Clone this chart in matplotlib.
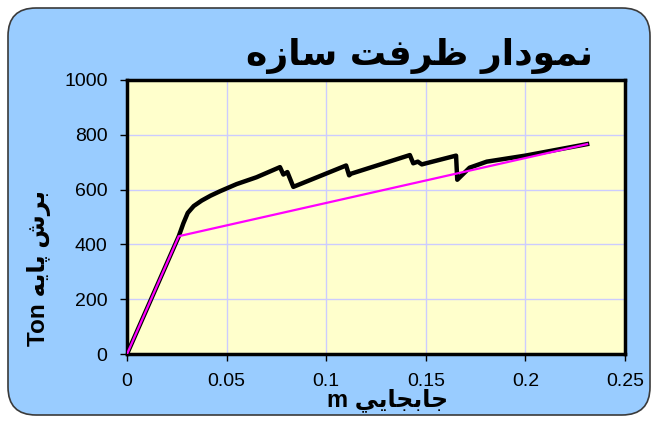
import matplotlib.pyplot as plt
from matplotlib.patches import FancyBboxPatch

# capacity (pushover) curve of the structure
disp = [0, 0.026, 0.0283, 0.0305, 0.0335, 0.0375, 0.042, 0.0467, 0.055, 0.065,
        0.0768, 0.0785, 0.0805, 0.0835, 0.110, 0.1115, 0.1125, 0.142, 0.1437,
        0.146, 0.148, 0.1652, 0.1658, 0.172, 0.1806, 0.2, 0.231]
shear = [0, 430, 477, 515, 540, 560, 578, 594, 620, 645,
         682, 655, 664, 610, 688, 652, 658, 726, 696,
         702, 692, 724, 636, 680, 702, 724, 766]

# bilinear idealisation
bi_disp = [0, 0.026, 0.231]
bi_shear = [0, 430, 766]

x_ticks = [0, 0.05, 0.1, 0.15, 0.2, 0.25]
x_labels = ['0', '0.05', '0.1', '0.15', '0.2', '0.25']
y_ticks = [0, 200, 400, 600, 800, 1000]

title = 'نمودار ظرفت سازه'
y_label = 'برش پايه'
x_label = 'جابجايي'

# matplotlib does no arabic shaping, so map letters to presentation forms
forms = {
    'ا': ('\uFE8D', '\uFE8E', None, None), 'د': ('\uFEA9', '\uFEAA', None, None),
    'ر': ('\uFEAD', '\uFEAE', None, None), 'ز': ('\uFEAF', '\uFEB0', None, None),
    'و': ('\uFEED', '\uFEEE', None, None),
    'ب': ('\uFE8F', '\uFE90', '\uFE91', '\uFE92'), 'ت': ('\uFE95', '\uFE96', '\uFE97', '\uFE98'),
    'ج': ('\uFE9D', '\uFE9E', '\uFE9F', '\uFEA0'), 'س': ('\uFEB1', '\uFEB2', '\uFEB3', '\uFEB4'),
    'ش': ('\uFEB5', '\uFEB6', '\uFEB7', '\uFEB8'), 'ظ': ('\uFEC5', '\uFEC6', '\uFEC7', '\uFEC8'),
    'ف': ('\uFED1', '\uFED2', '\uFED3', '\uFED4'), 'م': ('\uFEE1', '\uFEE2', '\uFEE3', '\uFEE4'),
    'ن': ('\uFEE5', '\uFEE6', '\uFEE7', '\uFEE8'), 'ه': ('\uFEE9', '\uFEEA', '\uFEEB', '\uFEEC'),
    'ي': ('\uFEF1', '\uFEF2', '\uFEF3', '\uFEF4'), 'پ': ('\uFB56', '\uFB57', '\uFB58', '\uFB59'),
}


def shape(s):
    out = []
    for i, ch in enumerate(s):
        if ch not in forms:
            out.append(ch)
            continue
        prev = i > 0 and s[i - 1] in forms and forms[s[i - 1]][2] is not None
        nxt = forms[ch][2] is not None and i + 1 < len(s) and s[i + 1] in forms
        if prev and nxt:
            out.append(forms[ch][3])
        elif prev:
            out.append(forms[ch][1])
        elif nxt:
            out.append(forms[ch][2])
        else:
            out.append(forms[ch][0])
    return ''.join(out)[::-1]


fig = plt.figure(figsize=(6.56, 4.21), dpi=100)
fig.patch.set_facecolor('white')
bg = FancyBboxPatch((0.08, 0.06), 6.42, 4.07, boxstyle='round,pad=0,rounding_size=0.28',
                    transform=fig.dpi_scale_trans, facecolor='#99CCFF', edgecolor='#3a3a3a',
                    linewidth=1.2, zorder=-5)
fig.patches.append(bg)

ax = fig.add_axes([0.1936, 0.1591, 0.7591, 0.6509])
ax.set_zorder(1)
ax.set_facecolor('#FFFFCC')
ax.plot(disp, shear, color='black', linewidth=3.2, solid_joinstyle='round', zorder=3)
ax.plot(bi_disp, bi_shear, color='#FF00FF', linewidth=1.6, zorder=4)

ax.set_xlim(0, 0.25)
ax.set_ylim(0, 1000)
ax.set_xticks(x_ticks)
ax.set_xticklabels(x_labels)
ax.set_yticks(y_ticks)
ax.grid(True, color='#CCCCFF', linewidth=1)
ax.set_axisbelow(True)
for sp in ax.spines.values():
    sp.set_linewidth(2.5)
ax.tick_params(length=5, width=1, pad=9, labelsize=14)
for lab in ax.get_xticklabels() + ax.get_yticklabels():
    lab.set_fontfamily('Liberation Sans')

fig.text(0.64, 0.868, shape(title), fontsize=26, fontweight='bold',
         family='DejaVu Sans', ha='center', va='center', zorder=5)
fig.text(0.06, 0.363, 'Ton ' + shape(y_label), fontsize=17.5, fontweight='bold',
         family=['Liberation Sans', 'DejaVu Sans'], rotation=90, ha='center', va='center', zorder=5)
fig.text(0.59, 0.05, 'm ' + shape(x_label), fontsize=17, fontweight='bold',
         family=['Liberation Sans', 'DejaVu Sans'], ha='center', va='center', zorder=5)

fig.savefig('out.png', dpi=100)
